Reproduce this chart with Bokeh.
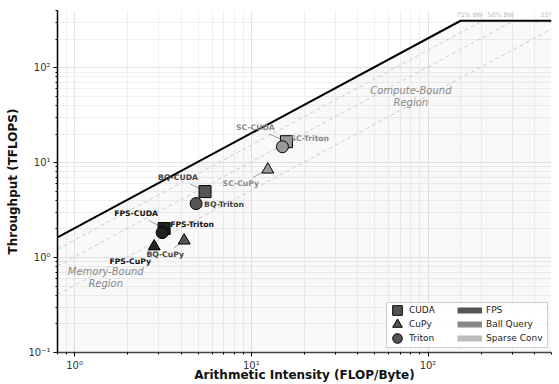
import numpy as np
from bokeh.plotting import figure
from bokeh.models import (Legend, LegendItem, Label, CustomJSTickFormatter, BoxAnnotation)
from bokeh.core.properties import value
from bokeh.embed import file_html
from bokeh.resources import INLINE

# ---------------- data ----------------
kernels = ["FPS", "FPS", "FPS", "BQ", "BQ", "BQ", "SC", "SC", "SC"]
impls = ["CUDA", "CuPy", "Triton", "CUDA", "CuPy", "Triton", "CUDA", "CuPy", "Triton"]
intensity = [3.21, 2.82, 3.13, 5.47, 4.17, 4.87, 15.8, 12.4, 15.0]
throughput = [2.02, 1.31, 1.83, 4.95, 1.51, 3.70, 16.6, 8.44, 14.7]

peak_tflops = 312.0
bandwidth = 2.039  # TB/s
bw_fracs = [0.75, 0.5, 0.25]
bw_labels = ["75% BW", "50% BW", "25% BW"]

impl_names = ["CUDA", "CuPy", "Triton"]
kernel_names = ["FPS", "Ball Query", "Sparse Conv"]

# ---------------- styles ----------------
FONT = "DejaVu Sans"
marker_of = {"CUDA": "square", "CuPy": "triangle", "Triton": "circle"}
size_of = {"CUDA": 12, "CuPy": 12, "Triton": 12}
fill_of = {"FPS": "#222222", "BQ": "#555555", "SC": "#999999"}
text_col = {"FPS": "#111111", "BQ": "#444444", "SC": "#888888"}
legend_patch = ["#555555", "#888888", "#bbbbbb"]
# label offsets in screen pixels (dx right, dy down) and alignment
lab_dx = [-28, -24, 8, -27, -19, 8, -31, -27, 8]
lab_dy = [-15, 15, -8, -14, 14, 1, -14, 14, -8]
lab_align = ["center", "center", "left", "center", "center", "left", "center", "center", "left"]
lead = [True, False, False, True, True, False, True, True, False]

xmin, xmax = 0.8, 500
ymin, ymax = 0.1, 400

BL, BR, BT, BB = 57, 8, 10, 32
W, H = 559, 384
FW, FH = W - BL - BR, H - BT - BB
PX_X = FW / np.log10(xmax / xmin)  # px per decade on x
PX_Y = FH / np.log10(ymax / ymin)  # px per decade on y

def px_to_x(px):  # frame-relative pixel -> data
    return xmin * 10 ** (px / PX_X)

def px_to_y(py):  # pixels above frame bottom -> data
    return ymin * 10 ** (py / PX_Y)

p = figure(width=W, height=H, x_axis_type="log", y_axis_type="log",
           x_range=(xmin, xmax), y_range=(ymin, ymax),
           output_backend="svg", toolbar_location=None,
           min_border_left=BL, min_border_right=BR, min_border_top=BT, min_border_bottom=BB)
p.outline_line_color = None
p.background_fill_color = "white"

# grid
for g in (p.xgrid, p.ygrid):
    g.grid_line_color = "#e4e4e4"
    g.grid_line_width = 1
    g.minor_grid_line_color = "#efefef"
    g.minor_grid_line_width = 1

ridge = peak_tflops / bandwidth
roof_x = [xmin, ridge, xmax]
roof_y = [min(bandwidth * x, peak_tflops) for x in roof_x]

# shading under roofline
p.varea(x=roof_x, y1=[ymin] * 3, y2=roof_y, fill_color="#000000", fill_alpha=0.025)

# ridge vertical dotted line
p.segment(x0=[ridge], y0=[ymin], x1=[ridge], y1=[peak_tflops], line_color="#cccccc",
          line_dash="1 2", line_width=1)

# fractional bandwidth dashed lines
for frac, lab in zip(bw_fracs, bw_labels):
    r = peak_tflops / (bandwidth * frac)
    xs = [xmin, min(r, xmax), xmax]
    ys = [min(bandwidth * frac * x, peak_tflops) for x in xs]
    p.line(xs, ys, line_color="#cccccc", line_dash="4 3", line_width=1)
    p.add_layout(Label(x=r, y=peak_tflops * 1.17, text=lab, text_align="right",
                       text_baseline="middle", text_font_size="6.3px",
                       text_color="#bbbbbb", text_font=FONT))

# roofline
p.line(roof_x, roof_y, line_color="black", line_width=2)

# region labels
p.text(x=[80], y=[50], text=["Compute-Bound\nRegion"], text_align="center",
       text_baseline="middle", text_font_size="10px", text_font_style="italic",
       text_color="#888888", text_font=value(FONT), text_line_height=1.1)
p.text(x=[1.5], y=[0.62], text=["Memory-Bound\nRegion"], text_align="center",
       text_baseline="middle", text_font_size="10px", text_font_style="italic",
       text_color="#888888", text_font=value(FONT), text_line_height=1.1)

# leader lines
lx0, ly0, lx1, ly1 = [], [], [], []
for i in range(len(kernels)):
    if lead[i]:
        lx0.append(intensity[i] * 10 ** (0.55 * lab_dx[i] / PX_X))
        ly0.append(throughput[i] * 10 ** (-0.55 * lab_dy[i] / PX_Y))
        lx1.append(intensity[i])
        ly1.append(throughput[i])
p.segment(x0=lx0, y0=ly0, x1=lx1, y1=ly1, line_color="#888888", line_width=0.8)

# markers
for i in range(len(kernels)):
    p.scatter([intensity[i]], [throughput[i]], marker=marker_of[impls[i]],
              size=size_of[impls[i]], fill_color=fill_of[kernels[i]],
              line_color="black", line_width=1)

# point labels
tx = [intensity[i] * 10 ** (lab_dx[i] / PX_X) for i in range(len(kernels))]
ty = [throughput[i] * 10 ** (-lab_dy[i] / PX_Y) for i in range(len(kernels))]
for i in range(len(kernels)):
    p.text(x=[tx[i]], y=[ty[i]], text=[f"{kernels[i]}-{impls[i]}"],
           text_align=lab_align[i], text_baseline="middle",
           text_font_size="7.7px", text_font_style="bold",
           text_color=text_col[kernels[i]], text_font=value(FONT))

# axes
fmt = CustomJSTickFormatter(code="""
const e = Math.round(Math.log10(tick));
const sup = {'-':'\u207b','0':'\u2070','1':'\u00b9','2':'\u00b2','3':'\u00b3'};
return '10' + String(e).split('').map(c => sup[c]).join('');
""")
for ax in (p.xaxis[0], p.yaxis[0]):
    ax.formatter = fmt
    ax.major_label_text_font = FONT
    ax.major_label_text_font_size = "10px"
    ax.major_label_text_color = "#333333"
    ax.axis_label_text_font = FONT
    ax.axis_label_text_font_size = "12px"
    ax.axis_label_text_font_style = "bold"
    ax.axis_label_text_color = "#111111"
    ax.major_tick_out = 4
    ax.major_tick_in = 0
    ax.minor_tick_out = 2
    ax.minor_tick_in = 0
    ax.major_label_standoff = 3
p.xaxis.axis_label = "Arithmetic Intensity (FLOP/Byte)"
p.yaxis.axis_label = "Throughput (TFLOPS)"
p.xaxis.axis_label_standoff = -6
p.yaxis.axis_label_standoff = 5
p.yaxis.axis_line_color = "black"
p.yaxis.axis_line_width = 1.5
p.xaxis.axis_line_color = "#444444"
p.xaxis.axis_line_width = 1.5

# legend frame (box) -- frame-relative pixel placement
box = BoxAnnotation(left=px_to_x(329), right=px_to_x(490),
                    bottom=px_to_y(5), top=px_to_y(50),
                    fill_color="white", fill_alpha=0.9,
                    line_color="#cccccc", line_width=1, line_alpha=1.0)
p.add_layout(box)

# legend column 1: implementations (markers), one single-row legend per entry
row_bottoms = [30, 16, 2]
for name, yb in zip(impl_names, row_bottoms):
    r = p.scatter([1e-3], [1e-3], marker=marker_of[name], size=10, fill_color="#555555",
                  line_color="black", line_width=1)
    leg = Legend(items=[LegendItem(label=name, renderers=[r])], location=(328, yb),
                 orientation="vertical", glyph_width=24, glyph_height=24,
                 label_standoff=-2, spacing=0, padding=0, margin=0,
                 label_text_font=FONT, label_text_font_size="9px",
                 label_text_color="#222222", border_line_color=None,
                 background_fill_alpha=0.0, label_height=14)
    p.add_layout(leg, "center")

# legend column 2: kernels (patches)
items2 = []
for name, col in zip(kernel_names, legend_patch):
    r = p.line([1e-3, 2e-3], [1e-3, 1e-3], line_color=col, line_width=6)
    items2.append(LegendItem(label=name, renderers=[r]))
leg2 = Legend(items=items2, location=(400, 7), orientation="vertical",
              glyph_width=25, glyph_height=14, label_standoff=4, spacing=0,
              padding=0, margin=0, label_text_font=FONT, label_text_font_size="9px",
              label_text_color="#222222", border_line_color=None,
              background_fill_alpha=0.0, label_height=14)
p.add_layout(leg2, "center")

open("out.html", "w").write(file_html(p, INLINE))
